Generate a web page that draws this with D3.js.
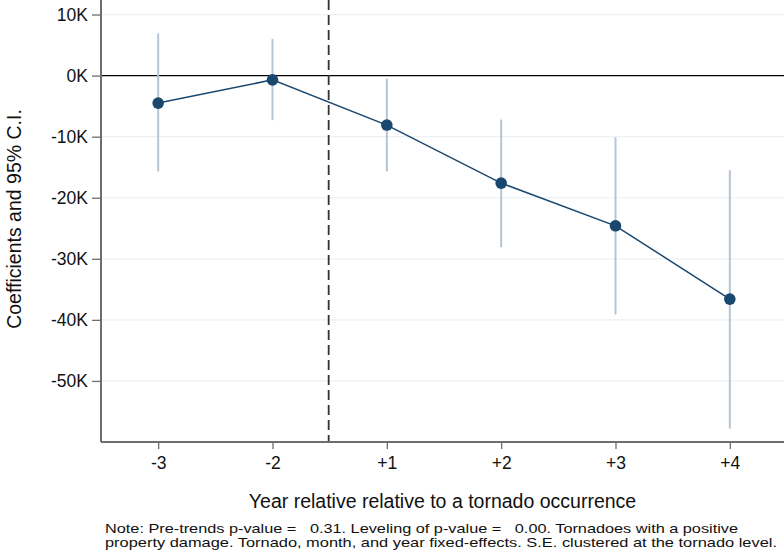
<!DOCTYPE html>
<html>
<head>
<meta charset="utf-8">
<script src="https://cdn.jsdelivr.net/npm/d3@7"></script>
<style>
  body { margin: 0; background: #fff; }
  svg { display: block; font-family: "Liberation Sans", Arial, Helvetica, sans-serif; }
</style>
</head>
<body>
<svg id="chart" width="784" height="554"></svg>
<script>
// event-study coefficients
var periods = ['-3', '-2', '+1', '+2', '+3', '+4'];
var coef    = [-4500, -700, -8100, -17600, -24600, -36600];
var ciLow   = [-15700, -7300, -15700, -28100, -39100, -57800];
var ciHigh  = [6900, 6000, -500, -7200, -10100, -15500];
var yTicks  = [10000, 0, -10000, -20000, -30000, -40000, -50000];
var noteLines = [
    'Note: Pre-trends p-value =   0.31. Leveling of p-value =   0.00. Tornadoes with a positive',
    'property damage. Tornado, month, and year fixed-effects. S.E. clustered at the tornado level.'
];

var svg = d3.select('#chart');

var mLeft = 101, mRight = 784, mTop = 0, mBottom = 442;

var x = d3.scaleLinear()
    .domain([-0.5, 5.5])
    .range([mLeft, 787]);

var y = d3.scaleLinear()
    .domain([-60000, 12380])
    .range([mBottom, mTop]);

var data = periods.map(function(p, i){
    return {p: p, i: i, b: coef[i], lo: ciLow[i], hi: ciHigh[i]};
});

// grid
svg.append('g').attr('class', 'grid')
    .selectAll('line')
    .data(yTicks.filter(d => d != 0))
    .enter()
    .append('line')
    .attr('x1', mLeft).attr('x2', mRight)
    .attr('y1', d => y(d)).attr('y2', d => y(d))
    .attr('stroke', '#eaf2f3')
    .attr('stroke-width', 1.2);

// zero line
svg.append('line')
    .attr('x1', mLeft).attr('x2', mRight)
    .attr('y1', y(0)).attr('y2', y(0))
    .attr('stroke', '#000')
    .attr('stroke-width', 1.3);

// event line between -2 and +1
svg.append('line')
    .attr('x1', x(1.5) - 1).attr('x2', x(1.5) - 1)
    .attr('y1', mTop).attr('y2', mBottom)
    .attr('stroke', '#333')
    .attr('stroke-width', 1.8)
    .attr('stroke-dasharray', '10,5');

// confidence intervals
svg.append('g').selectAll('line')
    .data(data)
    .enter()
    .append('line')
    .attr('x1', d => x(d.i)).attr('x2', d => x(d.i))
    .attr('y1', d => y(d.lo)).attr('y2', d => y(d.hi))
    .attr('stroke', '#b6c4d3')
    .attr('stroke-width', 2);

// coefficient line + markers
var line = d3.line()
    .x(d => x(d.i))
    .y(d => y(d.b));

svg.append('path')
    .datum(data)
    .attr('d', line)
    .attr('fill', 'none')
    .attr('stroke', '#1a476f')
    .attr('stroke-width', 1.5);

svg.append('g').selectAll('circle')
    .data(data)
    .enter()
    .append('circle')
    .attr('cx', d => x(d.i))
    .attr('cy', d => y(d.b))
    .attr('r', 5.8)
    .attr('fill', '#1a476f');

// y axis
var yAxis = d3.axisLeft(y)
    .tickValues(yTicks)
    .tickSize(9)
    .tickPadding(4)
    .tickFormat(d => (d / 1000) + 'K');

var gy = svg.append('g')
    .attr('transform', 'translate(' + mLeft + ',0)')
    .call(yAxis);

// x axis
var xAxis = d3.axisBottom(x)
    .tickValues(d3.range(periods.length))
    .tickSize(7)
    .tickPadding(8)
    .tickFormat(i => periods[i]);

var gx = svg.append('g')
    .attr('transform', 'translate(0,' + mBottom + ')')
    .call(xAxis);

[gy, gx].forEach(function(g){
    g.select('.domain').attr('stroke', '#6e6e6e').attr('stroke-width', 2);
    g.selectAll('.tick line').attr('stroke', '#6e6e6e').attr('stroke-width', 1.3);
    g.selectAll('.tick text')
        .attr('fill', '#111')
        .attr('font-size', 17.5)
        .attr('font-family', '"Liberation Sans", Arial, sans-serif');
});
gy.select('.domain').attr('d', 'M0,' + mTop + 'V' + mBottom);
gx.select('.domain').attr('d', 'M' + mLeft + ',0H' + mRight);

// axis titles
svg.append('text')
    .attr('transform', 'translate(21,' + 219 + ') rotate(-90)')
    .attr('text-anchor', 'middle')
    .attr('font-size', 19.5)
    .attr('fill', '#111')
    .text('Coefficients and 95% C.I.');

svg.append('text')
    .attr('x', (mLeft + mRight) / 2)
    .attr('y', 508)
    .attr('text-anchor', 'middle')
    .attr('font-size', 19.5)
    .attr('fill', '#111')
    .text('Year relative relative to a tornado occurrence');

// note (reference text is a bit wider than the font, so stretch it)
var noteWidths = [633, 672];
svg.append('g').selectAll('text')
    .data(noteLines)
    .enter()
    .append('text')
    .attr('x', 105)
    .attr('y', (d, i) => 533 + i * 13.5)
    .attr('font-size', 13)
    .attr('fill', '#111')
    .attr('textLength', (d, i) => noteWidths[i])
    .attr('lengthAdjust', 'spacingAndGlyphs')
    .style('white-space', 'pre')
    .text(d => d);
</script>
</body>
</html>
